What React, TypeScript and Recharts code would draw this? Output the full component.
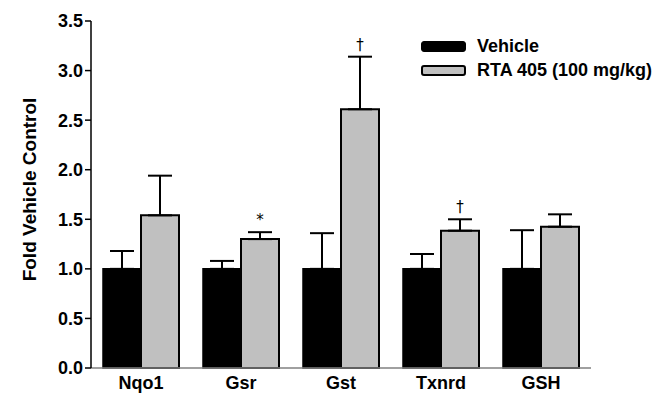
import React from 'react';
import { BarChart, Bar, XAxis, YAxis, ErrorBar, Legend, LabelList } from 'recharts';

// values
const genes = ['Nqo1', 'Gsr', 'Gst', 'Txnrd', 'GSH'];
const vehicle = [1.0, 1.0, 1.0, 1.0, 1.0];
const vehicleErr = [0.18, 0.08, 0.36, 0.15, 0.39];
const rta = [1.54, 1.3, 2.61, 1.385, 1.425];
const rtaErr = [0.4, 0.07, 0.53, 0.115, 0.125];
const marks = ['', '*', '\u2020', '\u2020', ''];
const yTicks = [0, 0.5, 1, 1.5, 2, 2.5, 3, 3.5];

const data = genes.map((g, i) => ({
  gene: g,
  vehicle: vehicle[i],
  vehicleErr: [0, vehicleErr[i]],
  rta: rta[i],
  rtaErr: [0, rtaErr[i]],
  mark: marks[i],
}));

const FONT = '"Liberation Sans", Arial, sans-serif';

// significance mark sits above the top of the error bar
const MarkLabel = (props: any) => {
  const { x, y, width, height, index } = props;
  const mark = marks[index];
  if (!mark) return null;
  const pxPerUnit = height / rta[index];
  const top = y - rtaErr[index] * pxPerUnit;
  return (
    <text
      x={x + width / 2}
      y={top - 7}
      textAnchor="middle"
      fontFamily='"DejaVu Sans", sans-serif'
      fontSize={15}
      style={{ fill: '#000', stroke: 'none' }}
    >
      {mark}
    </text>
  );
};

const CustomLegend = () => (
  <div style={{ fontFamily: FONT, fontWeight: 'bold', fontSize: 18, color: '#000', lineHeight: '24px' }}>
    <div style={{ display: 'flex', alignItems: 'center', height: 24 }}>
      <span style={{ display: 'inline-block', width: 43, height: 9, background: '#000', border: '1px solid #000', borderRadius: 3, marginRight: 11 }} />
      Vehicle
    </div>
    <div style={{ display: 'flex', alignItems: 'center', height: 24 }}>
      <span style={{ display: 'inline-block', width: 41, height: 7, background: '#c0c0c0', border: '2px solid #000', borderRadius: 3, marginRight: 11 }} />
      RTA 405 (100 mg/kg)
    </div>
  </div>
);

export default function App() {
  return (
    <div style={{ position: 'absolute', left: 0, top: 0, background: '#fff' }}>
      <BarChart
        width={670}
        height={402}
        data={data}
        margin={{ top: 21, right: 79, bottom: 4, left: 0 }}
        barCategoryGap="12%"
        barGap={0}
      >
        <XAxis
          dataKey="gene"
          axisLine={{ stroke: '#808080', strokeWidth: 1.5 }}
          tickLine={false}
          height={30}
          tick={{ fontFamily: FONT, fontSize: 18, fontWeight: 'bold', fill: '#000' }}
        />
        <YAxis
          width={91}
          domain={[0, 3.5]}
          ticks={yTicks}
          interval={0}
          tickFormatter={(v: number) => v.toFixed(1)}
          axisLine={{ stroke: '#000', strokeWidth: 1.5 }}
          tickLine={{ stroke: '#000', strokeWidth: 1.5 }}
          tickSize={6}
          tick={{ fontFamily: FONT, fontSize: 18, fontWeight: 'bold', fill: '#000' }}
          label={{
            value: 'Fold Vehicle Control',
            angle: -90,
            position: 'insideLeft',
            dx: 24,
            dy: -5,
            style: { fontFamily: FONT, fontSize: 19, fontWeight: 'bold', fill: '#000', textAnchor: 'middle' },
          }}
        />
        <Legend
          layout="horizontal"
          verticalAlign="middle"
          align="center"
          content={<CustomLegend />}
          wrapperStyle={{ position: 'absolute', top: 34, left: 421, width: 245 }}
        />
        <Bar dataKey="vehicle" name="Vehicle" fill="#000" stroke="#000" strokeWidth={1.5} isAnimationActive={false}>
          <ErrorBar dataKey="vehicleErr" width={12} stroke="#000" strokeWidth={2} direction="y" />
        </Bar>
        <Bar dataKey="rta" name="RTA 405 (100 mg/kg)" fill="#c0c0c0" stroke="#000" strokeWidth={2} isAnimationActive={false}>
          <ErrorBar dataKey="rtaErr" width={12} stroke="#000" strokeWidth={2} direction="y" />
          <LabelList dataKey="mark" content={<MarkLabel />} />
        </Bar>
      </BarChart>
    </div>
  );
}
